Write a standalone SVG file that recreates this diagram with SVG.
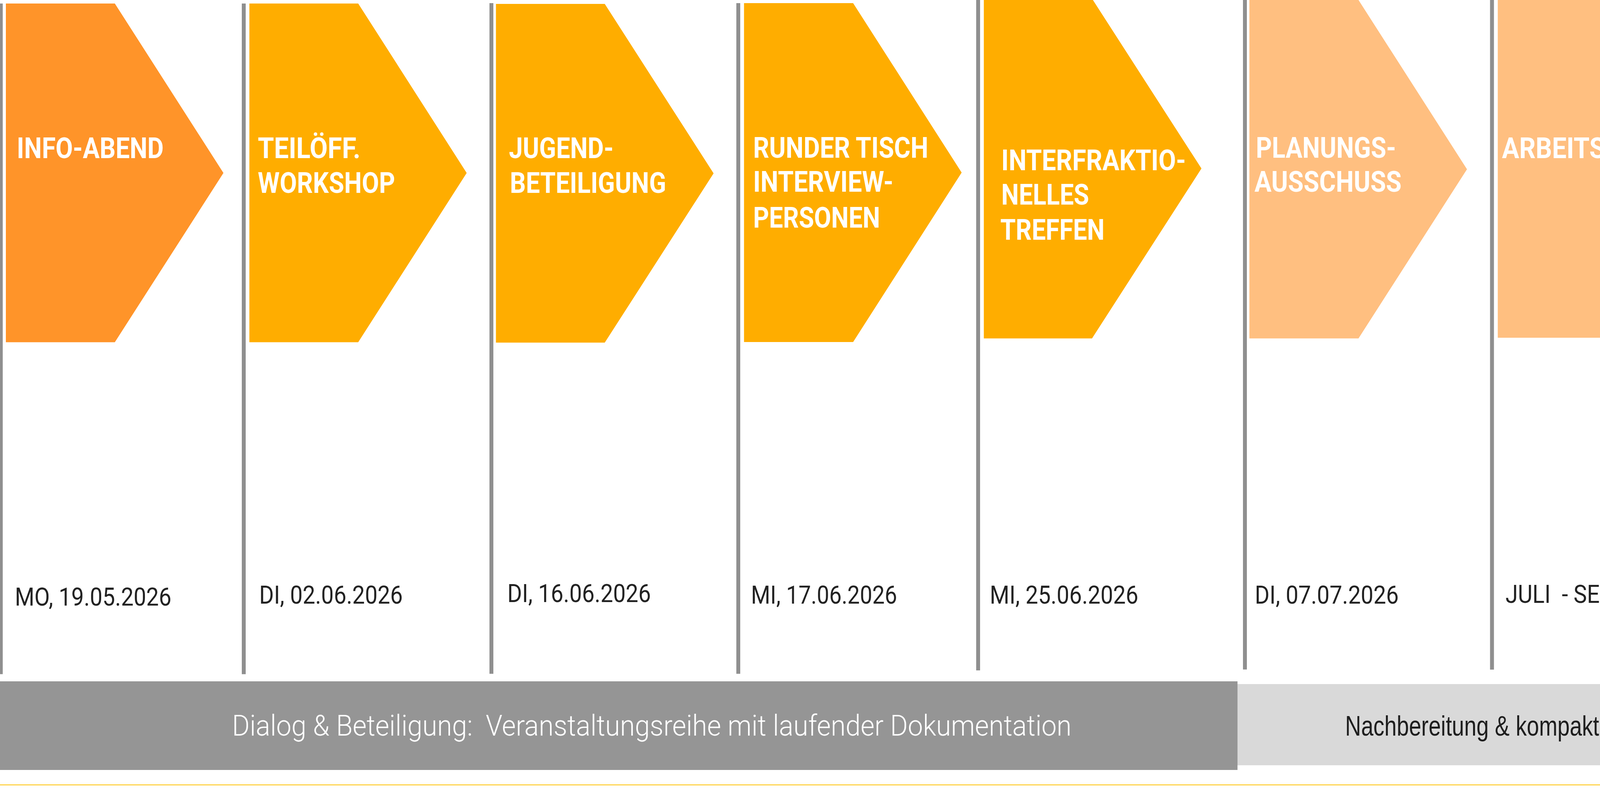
<svg xmlns="http://www.w3.org/2000/svg" width="4993" height="2072" viewBox="0 0 4993 2072">
<style>
.pole{fill:#8F8F8F}
.c1{fill:#FF9429}
.c2{fill:#FFAD00}
.c3{fill:#FFBF80}
.c4{fill:#FFDA6A}
.title{font-family:Roboto,"Liberation Sans",sans-serif;font-weight:700;font-size:75px;fill:#FFFFFF}
.date{font-family:Roboto,"Liberation Sans",sans-serif;font-weight:400;font-size:64px;fill:#222222}
.bar1{fill:#959595}
.bar2{fill:#D9D9D9}
.bartxt1{font-family:Roboto,"Liberation Sans",sans-serif;font-weight:300;font-size:75px;fill:#FFFFFF}
.bartxt2{font-family:"Liberation Sans",Arial,sans-serif;font-weight:400;font-size:72px;fill:#1E1E1E}
</style>
<rect x="0" y="0" width="4993" height="2072" fill="#FFFFFF"/>
<line x1="0" y1="2010.3" x2="4993" y2="2010.3" stroke="#FFC000" stroke-width="2"/>
<g id="phases">
<rect class="bar1" x="0" y="1745" width="3168" height="227"/>
<polygon class="bar2" points="3168,1752 4760,1752 4760,1634 4957,1856.5 4760,2079 4760,1960 3168,1960"/>
<text class="bartxt1" x="594" y="1884.3" textLength="2149" lengthAdjust="spacingAndGlyphs" xml:space="preserve">Dialog &amp; Beteiligung:  Veranstaltungsreihe mit laufender Dokumentation</text>
<text class="bartxt2" x="3443.6" y="1884.3" textLength="892" lengthAdjust="spacingAndGlyphs">Nachbereitung &amp; kompakter Bericht</text>
</g>
<g id="connectors"></g>
<g id="node1">
<rect class="pole" x="-3" y="9" width="10" height="1717.6"/>
<polygon class="c1" points="15,9 294,9 572,443 294,876.5 15,876.5"/>
<text class="title" x="43.1" y="405.2" textLength="376" lengthAdjust="spacingAndGlyphs">INFO-ABEND</text>
<text class="date" x="37.9" y="1550.9" textLength="401" lengthAdjust="spacingAndGlyphs">MO, 19.05.2026</text>
</g>
<g id="node2">
<rect class="pole" x="619" y="9" width="10" height="1717.7"/>
<polygon class="c2" points="638.4,9 917,9 1194.7,443 917,876.5 638.4,876.5"/>
<text class="title" x="660" y="405.2" textLength="263" lengthAdjust="spacingAndGlyphs">TEILÖFF.</text>
<text class="title" x="660" y="493.6" textLength="351.5" lengthAdjust="spacingAndGlyphs">WORKSHOP</text>
<text class="date" x="663.5" y="1545.7" textLength="367.5" lengthAdjust="spacingAndGlyphs">DI, 02.06.2026</text>
</g>
<g id="node3">
<rect class="pole" x="1253" y="8" width="10" height="1717.7"/>
<polygon class="c2" points="1269.6,10 1548.2,10 1826.8,444 1548.2,877.6 1269.6,877.6"/>
<text class="title" x="1302.8" y="405.2" textLength="268" lengthAdjust="spacingAndGlyphs">JUGEND-</text>
<text class="title" x="1305.3" y="493.6" textLength="400" lengthAdjust="spacingAndGlyphs">BETEILIGUNG</text>
<text class="date" x="1298.8" y="1542.3" textLength="367.5" lengthAdjust="spacingAndGlyphs">DI, 16.06.2026</text>
</g>
<g id="node4">
<rect class="pole" x="1885" y="8" width="10" height="1717.7"/>
<polygon class="c2" points="1904.7,8 2184,8 2461.8,442 2184,876 1904.7,876"/>
<text class="title" x="1927.9" y="404.1" textLength="448.5" lengthAdjust="spacingAndGlyphs">RUNDER TISCH</text>
<text class="title" x="1927.9" y="491.3" textLength="359" lengthAdjust="spacingAndGlyphs">INTERVIEW-</text>
<text class="title" x="1927.9" y="582.6" textLength="325" lengthAdjust="spacingAndGlyphs">PERSONEN</text>
<text class="date" x="1922.5" y="1545.7" textLength="374" lengthAdjust="spacingAndGlyphs">MI, 17.06.2026</text>
</g>
<g id="node5">
<rect class="pole" x="2499" y="0" width="10" height="1717"/>
<polygon class="c2" points="2518.6,-3.5 2795.6,-3.5 3075.7,431.6 2795.6,866.7 2518.6,866.7"/>
<text class="title" x="2563.3" y="436.2" textLength="472.6" lengthAdjust="spacingAndGlyphs">INTERFRAKTIO-</text>
<text class="title" x="2563.3" y="523.5" textLength="224.7" lengthAdjust="spacingAndGlyphs">NELLES</text>
<text class="title" x="2560.8" y="614.2" textLength="267" lengthAdjust="spacingAndGlyphs">TREFFEN</text>
<text class="date" x="2533.7" y="1545.7" textLength="380.5" lengthAdjust="spacingAndGlyphs">MI, 25.06.2026</text>
</g>
<g id="node6">
<rect class="pole" x="3182" y="0" width="10" height="1714.7"/>
<polygon class="c3" points="3198.4,0 3477.8,0 3755.5,433.4 3477.8,866.7 3198.4,866.7"/>
<text class="title" x="3215" y="404.1" textLength="359" lengthAdjust="spacingAndGlyphs">PLANUNGS-</text>
<text class="title" x="3211.6" y="491.3" textLength="376.4" lengthAdjust="spacingAndGlyphs">AUSSCHUSS</text>
<text class="date" x="3212.3" y="1545.7" textLength="368.4" lengthAdjust="spacingAndGlyphs">DI, 07.07.2026</text>
</g>
<g id="node7">
<rect class="pole" x="3814.5" y="0" width="10" height="1715"/>
<polygon class="c3" points="3834.3,-4 4113.6,-4 4394.7,430.5 4113.6,865 3834.3,865"/>
<text class="title" x="3845" y="405.2" textLength="475" lengthAdjust="spacingAndGlyphs">ARBEITSPHASE</text>
<text class="date" x="3853.9" y="1543.6" textLength="312" lengthAdjust="spacingAndGlyphs" xml:space="preserve">JULI  - SEPT</text>
</g>
<g id="node8">
<rect class="pole" x="4431" y="0" width="10" height="1705.6"/>
<polygon class="c4" points="4451.1,0 4735,0 5010,428 4727,856 4451.1,856"/>
<text class="title" x="4475.2" y="402.4" textLength="389" lengthAdjust="spacingAndGlyphs">BÜRGERVER-</text>
<text class="title" x="4473.5" y="490.8" textLength="362" lengthAdjust="spacingAndGlyphs">SAMMLUNG</text>
<text class="date" x="4460.7" y="1545.7" textLength="394" lengthAdjust="spacingAndGlyphs">Im Herbst 2026</text>
</g>
</svg>
